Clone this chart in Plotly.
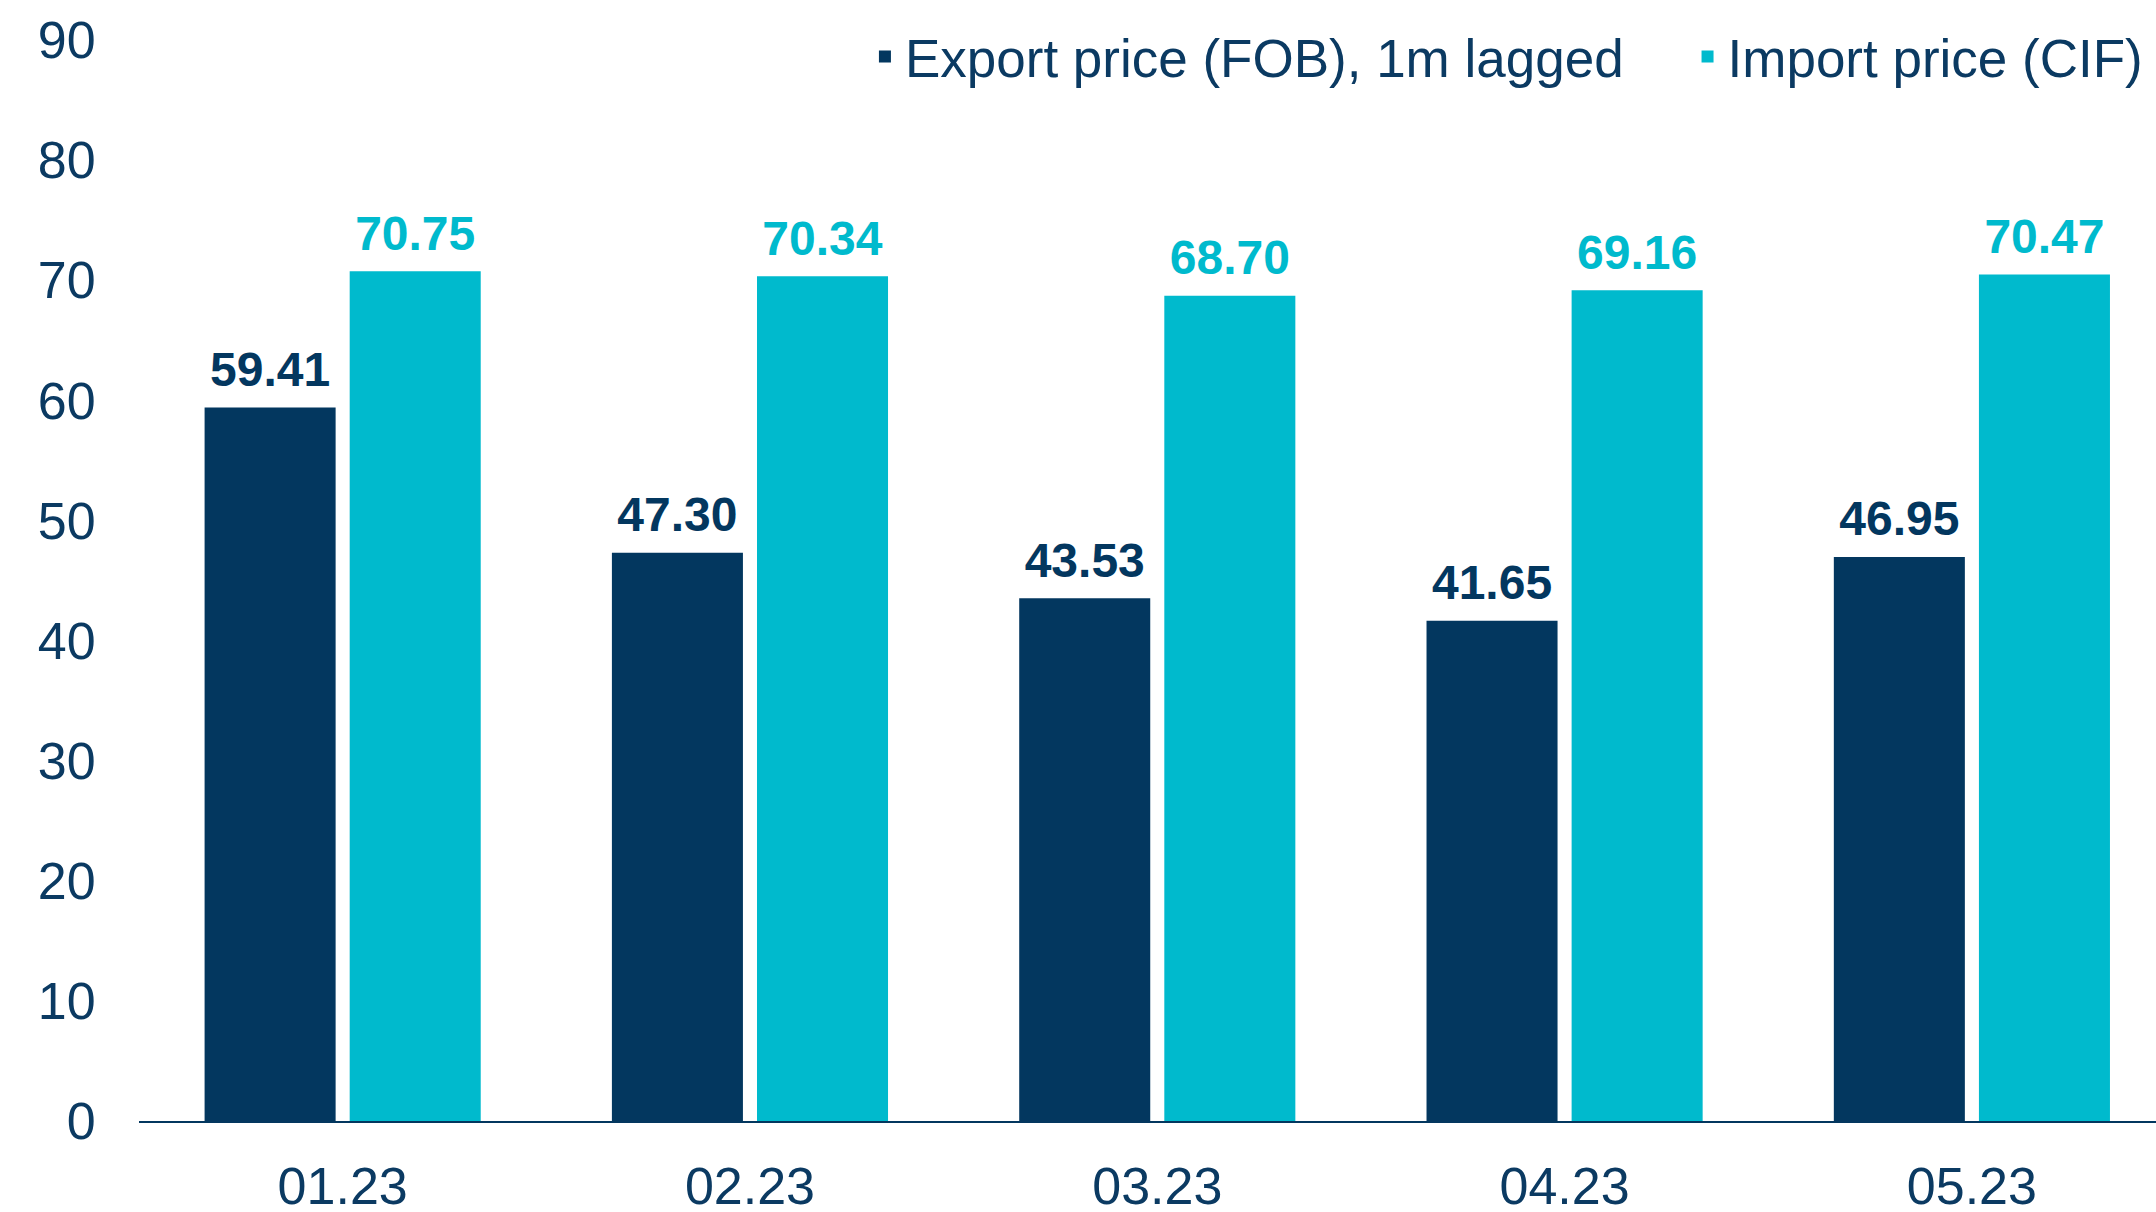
import plotly.graph_objects as go

categories = ["01.23", "02.23", "03.23", "04.23", "05.23"]
export_price = [59.41, 47.30, 43.53, 41.65, 46.95]
import_price = [70.75, 70.34, 68.70, 69.16, 70.47]
y_ticks = [0, 10, 20, 30, 40, 50, 60, 70, 80, 90]
series_names = ["Export price (FOB), 1m lagged", "Import price (CIF)"]

NAVY = "#03375F"
CYAN = "#00BACD"
TEXT = "#0B3A62"
FONT = "Liberation Sans, Arial, sans-serif"

LABEL_TMPL = "<span style='font-size:48px'><b>%{y:.2f}</b></span><br> "

fig = go.Figure()
fig.add_trace(go.Bar(
    x=categories, y=export_price,
    name=series_names[0] + "\u00a0\u00a0\u00a0\u00a0",
    marker=dict(color=NAVY, line=dict(width=0)),
    texttemplate=LABEL_TMPL, textposition="outside",
    textfont=dict(family=FONT, size=12, color=NAVY),
    cliponaxis=False,
))
fig.add_trace(go.Bar(
    x=categories, y=import_price, name=series_names[1],
    marker=dict(color=CYAN, line=dict(width=0)),
    texttemplate=LABEL_TMPL, textposition="outside",
    textfont=dict(family=FONT, size=12, color=CYAN),
    cliponaxis=False,
))

fig.update_layout(
    width=2156, height=1212,
    margin=dict(l=139, r=0, t=40, b=91, autoexpand=False),
    paper_bgcolor="white", plot_bgcolor="white",
    barmode="group", bargap=0.2875, bargroupgap=0.097,
    font=dict(family=FONT, size=52, color=TEXT),
    showlegend=True,
    legend=dict(
        orientation="h", x=0.996, xanchor="right", y=1.0226, yanchor="top",
        font=dict(family=FONT, size=53, color=TEXT),
        bgcolor="rgba(0,0,0,0)", traceorder="normal",
    ),
    uniformtext=dict(mode=False),
)
fig.update_xaxes(
    range=[-0.5, 4.452],
    showgrid=False, showline=True, linecolor=NAVY, linewidth=2,
    ticks="outside", ticklen=19, tickcolor="rgba(0,0,0,0)",
    tickfont=dict(family=FONT, size=52, color=TEXT),
    zeroline=False, automargin=False,
)
fig.update_yaxes(
    range=[0, 90], tickvals=y_ticks, showgrid=False, showline=False,
    zeroline=False, ticks="outside", ticklen=32, tickcolor="rgba(0,0,0,0)",
    tickfont=dict(family=FONT, size=52, color=TEXT), automargin=False,
)

fig.write_html(
    "out.html",
    config={"displayModeBar": False},
    post_script="document.body.style.margin='0';document.body.style.overflow='hidden';",
)
